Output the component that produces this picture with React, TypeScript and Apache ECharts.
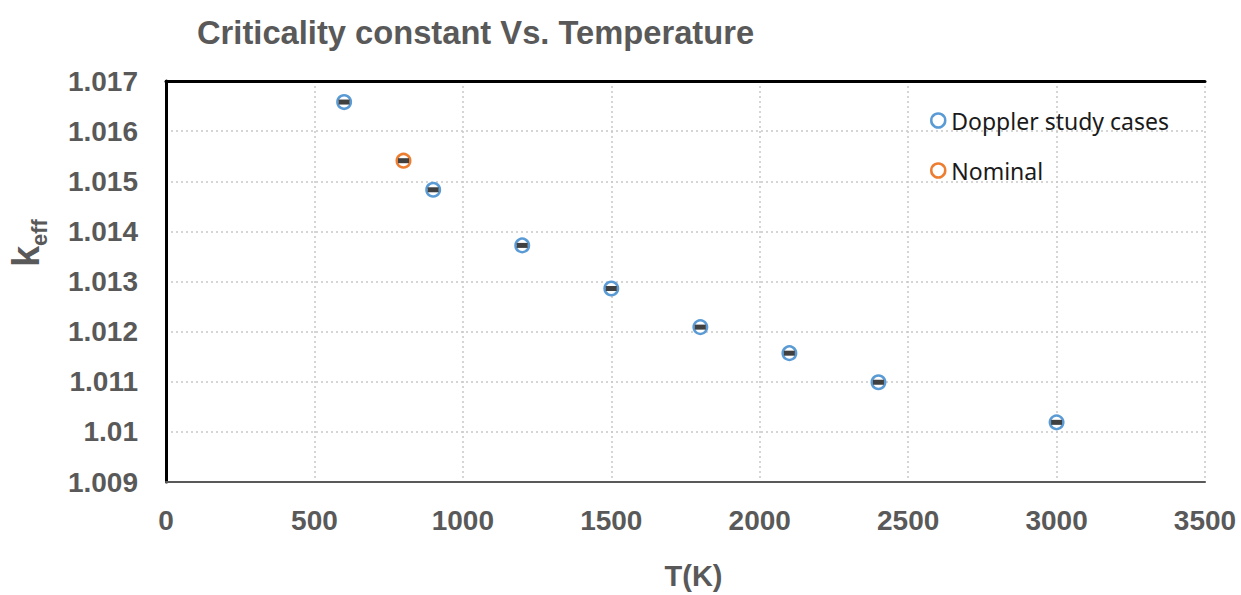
import React, { useEffect, useRef } from "react";
import * as echarts from "echarts";

// Temperatures (K) and multiplication factors
const dopplerT = [600, 900, 1200, 1500, 1800, 2100, 2400, 3000];
const dopplerK = [1.01658, 1.01483, 1.01372, 1.01286, 1.01209, 1.01157, 1.01099, 1.01019];
const dopplerErr = [0.00005, 0.00005, 0.00005, 0.00005, 0.00005, 0.00005, 0.00005, 0.00005];

const nominalT = [800];
const nominalK = [1.01541];
const nominalErr = [0.00005];

const xTicks = [0, 500, 1000, 1500, 2000, 2500, 3000, 3500];
const yTicks = [1.009, 1.01, 1.011, 1.012, 1.013, 1.014, 1.015, 1.016, 1.017];

const BLUE = "#5B9BD5";
const ORANGE = "#ED7D31";
const GRAY = "#595959";

function pairs(xs: number[], ys: number[]) {
  return xs.map((x, i) => [x, ys[i]]);
}

function errorSeries(xs: number[], ys: number[], es: number[]) {
  return {
    type: "custom",
    z: 5,
    silent: true,
    data: xs.map((x, i) => [x, ys[i], es[i]]),
    renderItem: (params: any, api: any) => {
      const x = api.value(0);
      const y = api.value(1);
      const e = api.value(2);
      const top = api.coord([x, y + e]);
      const bot = api.coord([x, y - e]);
      const w = 11;
      return {
        type: "rect",
        shape: { x: top[0] - w / 2, y: top[1], width: w, height: Math.max(bot[1] - top[1], 1) },
        style: { fill: "#404040" },
      };
    },
  };
}

export default function App() {
  const ref = useRef<HTMLDivElement>(null);

  useEffect(() => {
    document.body.style.margin = "0";
    const chart = echarts.init(ref.current!, null, { renderer: "svg" });
    const FONT = "Liberation Sans, Arial, sans-serif";
    const labelFont = {
      color: GRAY,
      fontFamily: FONT,
      fontWeight: "bold" as const,
      fontSize: 28,
    };
    chart.setOption({
      animation: false,
      backgroundColor: "#ffffff",
      title: {
        text: "Criticality constant Vs. Temperature",
        left: 192,
        top: 11,
        textStyle: { ...labelFont, fontSize: 32.7 },
      },
      legend: {
        orient: "vertical",
        left: 925,
        top: 104,
        itemGap: 27,
        itemWidth: 14,
        itemHeight: 14,
        textStyle: {
          color: "#1a1a1a",
          fontFamily: "Noto Sans, Open Sans, sans-serif",
          fontSize: 23,
          padding: [0, 0, 0, 1],
        },
        data: [
          { name: "Doppler study cases", icon: "circle", itemStyle: { color: "#fff", borderColor: BLUE, borderWidth: 2.5 } },
          { name: "Nominal", icon: "circle", itemStyle: { color: "#fff", borderColor: ORANGE, borderWidth: 2.5 } },
        ],
      },
      // Rotated y-axis title: k with subscript "eff", reading bottom to top
      graphic: [
        {
          type: "text",
          x: 7,
          y: 267,
          z: 10,
          rotation: Math.PI / 2,
          style: { text: "k", fill: GRAY, font: "bold 38px Liberation Sans" },
        },
        {
          type: "text",
          x: 28,
          y: 246,
          z: 10,
          rotation: Math.PI / 2,
          style: { text: "eff", fill: GRAY, font: "bold 22px Liberation Sans" },
        },
      ],
      grid: { left: 166, right: 36, top: 81, bottom: 111, containLabel: false },
      xAxis: [
        {
          type: "value",
          min: 0,
          max: 3500,
          interval: 500,
          name: "T(K)",
          nameLocation: "middle",
          nameGap: 79,
          nameTextStyle: { ...labelFont, fontSize: 29, padding: [0, 0, 0, 16] },
          axisLine: { show: true, onZero: false, lineStyle: { color: GRAY, width: 2 } },
          axisTick: { show: false },
          axisLabel: { ...labelFont, margin: 24, formatter: (v: number) => (xTicks.includes(v) ? String(v) : "") },
          splitLine: { show: true, lineStyle: { color: "#c8c8c8", type: [2, 3], width: 1.5 } },
        },
        {
          type: "value",
          position: "top",
          min: 0,
          max: 3500,
          interval: 500,
          axisLine: { show: true, lineStyle: { color: "#000", width: 3 } },
          axisTick: { show: false },
          axisLabel: { show: false },
          splitLine: { show: false },
        },
      ],
      yAxis: [
        {
          type: "value",
          min: 1.009,
          max: 1.017,
          interval: 0.001,
          axisLine: { show: true, onZero: false, lineStyle: { color: GRAY, width: 2 } },
          axisTick: { show: false },
          axisLabel: {
            ...labelFont,
            margin: 28,
            formatter: (v: number) => {
              const t = yTicks.find((q) => Math.abs(q - v) < 1e-9);
              return t === undefined ? "" : String(parseFloat(t.toFixed(3)));
            },
          },
          splitLine: { show: true, lineStyle: { color: "#c8c8c8", type: [2, 3], width: 1.5 } },
        },
        {
          type: "value",
          position: "right",
          min: 1.009,
          max: 1.017,
          interval: 0.001,
          axisLine: { show: true, lineStyle: { color: "#000", width: 3 } },
          axisTick: { show: false },
          axisLabel: { show: false },
          splitLine: { show: false },
        },
      ],
      series: [
        {
          name: "Doppler study cases",
          type: "scatter",
          symbol: "circle",
          symbolSize: 13.5,
          z: 4,
          itemStyle: { color: "#fff", borderColor: BLUE, borderWidth: 2.5, opacity: 1 },
          data: pairs(dopplerT, dopplerK),
        },
        {
          name: "Nominal",
          type: "scatter",
          symbol: "circle",
          symbolSize: 13.5,
          z: 4,
          itemStyle: { color: "#fff", borderColor: ORANGE, borderWidth: 2.5, opacity: 1 },
          data: pairs(nominalT, nominalK),
        },
        errorSeries(dopplerT, dopplerK, dopplerErr),
        errorSeries(nominalT, nominalK, nominalErr),
      ],
    });
    return () => chart.dispose();
  }, []);

  return <div ref={ref} style={{ width: 1241, height: 595 }} />;
}
